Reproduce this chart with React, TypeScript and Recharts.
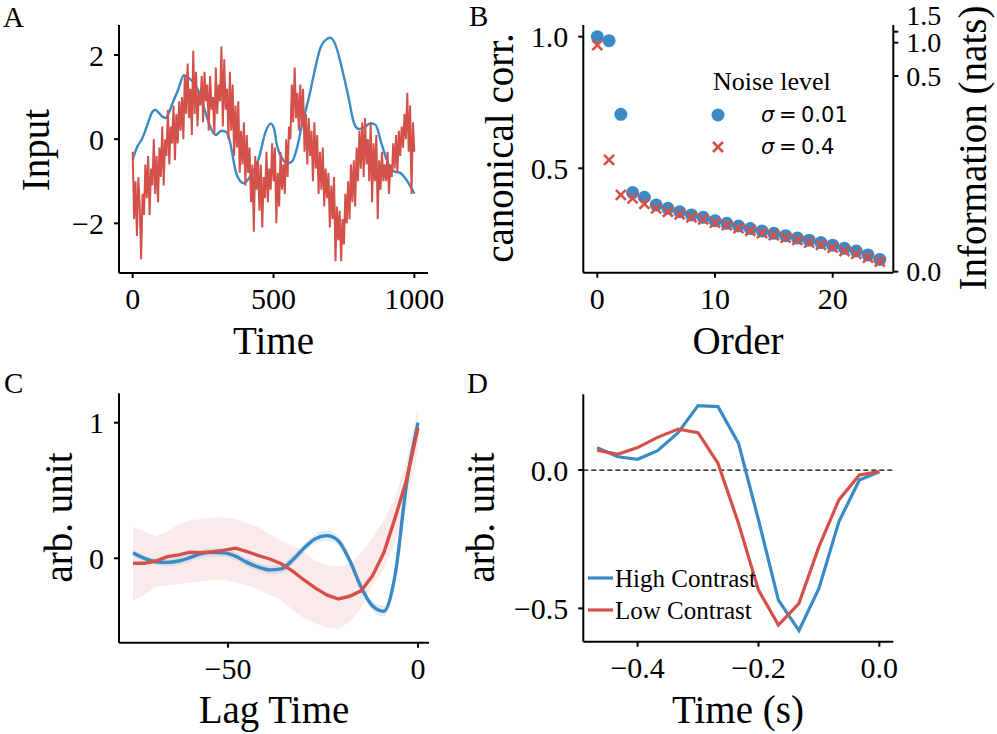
import React from "react";
import {
  LineChart,
  Line,
  ComposedChart,
  Area,
  ScatterChart,
  Scatter,
  XAxis,
  YAxis,
  ReferenceLine,
  Legend,
} from "recharts";

const BLUE = "#3a8ac6";
const RED = "#d4514a";
const SERIF = '"Liberation Serif", "Times New Roman", serif';
const MATH = '"DejaVu Sans", sans-serif';

// ---- panel A: stimulus input ----
const smoothTimes = [
  0, 15, 34, 50, 70, 80, 92, 105, 117, 128, 141, 160, 182, 200, 220, 240, 260,
  275, 295, 315, 330, 345, 355, 366, 380, 396, 410, 430, 448, 472, 490, 502,
  512, 530, 550, 566, 583, 601, 625, 643, 666, 690, 702, 720, 743, 767, 784,
  802, 826, 845, 862, 885, 909, 930, 950, 968, 1000,
];
const smoothInput = [
  -0.49, -0.2, 0.02, 0.3, 0.65, 0.7, 0.63, 0.54, 0.5, 0.62, 0.85, 1.15, 1.52,
  1.45, 1.3, 1.05, 0.6, 0.3, 0.1, 0.2, 0.18, -0.05, -0.4, -0.77, -0.98, -1.05,
  -0.95, -0.75, -0.45, 0.18, 0.37, 0.25, -0.14, -0.45, -0.58, -0.53, -0.22,
  0.34, 0.97, 1.53, 2.16, 2.38, 2.41, 2.24, 1.68, 0.97, 0.42, 0.24, 0.3, 0.38,
  0.34, -0.14, -0.61, -0.77, -0.8, -0.93, -1.29,
];
const noisyStep = 5;
const noisyInput = [
  -0.3, -1.9, -1.0, -2.3, -0.9, -1.6, -2.85, -1.3, -1.8, -0.6,
  -1.4, -0.4, -1.8, -0.7, -1.1, 0.0, -1.3, -0.4, -1.5, -0.2,
  -0.9, 0.3, -1.1, 0.0, -0.4, 0.7, -0.6, 0.3, -0.1, 0.8,
  -0.5, 0.6, -0.1, 0.9, 0.2, 1.0, 0.0, 1.5, 0.6, 1.8,
  0.5, 1.2, 0.1, 2.1, 0.6, 1.6, 0.3, 1.1, 0.8, 1.5,
  0.4, 1.6, 0.9, 1.3, 0.2, 1.5, 0.7, 1.0, 0.1, 1.7,
  0.6, 1.3, 0.9, 2.2, 0.3, 1.9, 0.7, 1.2, 0.0, 1.6,
  0.2, 1.3, -0.4, 0.8, -0.2, 0.9, -0.8, 0.2, -0.6, 0.4,
  -1.1, 0.1, -0.8, -0.2, -1.5, -0.6, -2.2, -0.4, -1.2, -0.5,
  -1.7, -0.6, -2.1, -0.9, -1.4, -0.3, -1.5, -0.7, -1.2, -0.1,
  -1.0, -0.2, -2.0, -0.8, -1.6, -0.3, -1.2, -0.6, -1.3, 0.0,
  -0.9, 0.3, 0.0, 1.3, 0.4, 1.7, 0.5, 1.1, 0.2, 1.3,
  0.3, 1.2, -0.3, 0.6, -0.6, 0.5, -0.4, 0.2, -1.0, 0.4,
  -0.7, 0.1, -1.3, -0.3, -1.2, -0.2, -1.6, -0.7, -1.4, -0.8,
  -2.1, -1.1, -1.9, -0.9, -2.9, -1.6, -2.4, -1.7, -2.9, -1.9,
  -2.5, -1.3, -2.0, -1.0, -1.9, -0.6, -1.5, -0.5, -1.6, -0.2,
  -1.0, 0.2, -0.7, 0.4, -0.9, 0.5, -0.6, 0.0, -1.0, 0.4,
  -1.5, -0.1, -1.0, 0.1, -1.9, -0.5, -1.2, -0.3, -1.0, -0.6,
  -1.0, -0.3, -1.3, -0.6, -0.9, -0.1, -0.7, 0.1, -0.8, 0.2,
  -0.4, 0.3, -0.2, 0.6, 0.0, 1.1, -0.3, 0.8, -1.3, 0.4,
  -0.3,
];
const timeTicks = [0, 500, 1000];
const inputTicks = [-2, 0, 2];

// ---- panel B: canonical correlations ----
const orders = [
  0, 1, 2, 3, 4, 5, 6, 7, 8, 9, 10, 11, 12, 13, 14, 15, 16, 17, 18, 19, 20, 21,
  22, 23, 24,
];
const corrLowNoise = [
  1.0, 0.985, 0.705, 0.408, 0.39, 0.361, 0.348, 0.335, 0.323, 0.314, 0.301,
  0.291, 0.281, 0.271, 0.262, 0.253, 0.244, 0.235, 0.227, 0.218, 0.208, 0.196,
  0.186, 0.171, 0.154,
];
const corrHighNoise = [
  0.968, 0.532, 0.399, 0.386, 0.365, 0.348, 0.335, 0.325, 0.314, 0.306, 0.294,
  0.284, 0.273, 0.263, 0.254, 0.246, 0.237, 0.228, 0.218, 0.209, 0.199, 0.186,
  0.175, 0.161, 0.146,
];
const orderTicks = [0, 10, 20];
const corrTicks = [0.5, 1.0];
const infoTickLabels = ["0.0", "0.5", "1.0", "1.5"];
// canonical corr. level that sits opposite each information tick
const infoTickAtCorr = [0.1075, 0.8507, 0.9772, 1.019];
const noiseLabels = ["0.01", "0.4"];

// ---- panel C: filters vs lag ----
const lags = [
  -75, -72, -69, -66, -63, -60, -57, -54, -51, -48, -45, -42, -39, -36, -33,
  -30, -27, -24, -21, -18, -15, -12, -9, -6, -3, 0,
];
const filterBlue = [
  0.04, 0.0, -0.025, -0.03, -0.02, 0.005, 0.035, 0.044, 0.04, 0.015, -0.03,
  -0.065, -0.085, -0.078, -0.012, 0.075, 0.145, 0.167, 0.13, -0.015, -0.21,
  -0.35, -0.39, -0.12, 0.55, 1.0,
];
const filterBlueLo = [
  0.015, -0.025, -0.05, -0.06, -0.05, -0.025, 0.005, 0.014, 0.01, -0.015,
  -0.06, -0.095, -0.115, -0.11, -0.045, 0.04, 0.11, 0.13, 0.095, -0.05, -0.245,
  -0.385, -0.43, -0.16, 0.51, 0.97,
];
const filterBlueHi = [
  0.065, 0.025, 0.0, 0.0, 0.01, 0.035, 0.065, 0.074, 0.07, 0.045, 0.0, -0.035,
  -0.055, -0.046, 0.021, 0.11, 0.18, 0.205, 0.165, 0.02, -0.175, -0.315, -0.35,
  -0.08, 0.59, 1.03,
];
const filterRed = [
  -0.037, -0.037, -0.02, 0.012, 0.025, 0.045, 0.042, 0.048, 0.06, 0.075, 0.05,
  0.02, -0.005, -0.04, -0.095, -0.16, -0.22, -0.27, -0.3, -0.28, -0.24, -0.13,
  0.04, 0.3, 0.58, 0.96,
];
const filterRedLo = [
  -0.31, -0.27, -0.21, -0.2, -0.19, -0.18, -0.17, -0.16, -0.16, -0.18, -0.2,
  -0.23, -0.27, -0.31, -0.38, -0.44, -0.48, -0.51, -0.52, -0.47, -0.37, -0.2,
  -0.08, 0.12, 0.35, 0.8,
];
const filterRedHi = [
  0.23, 0.2, 0.16, 0.2, 0.25, 0.28, 0.29, 0.3, 0.3, 0.29, 0.26, 0.23, 0.18,
  0.13, 0.09, 0.05, -0.02, -0.05, -0.06, -0.04, 0.04, 0.15, 0.28, 0.45, 0.72,
  1.12,
];
const lagTicks = [-50, 0];
const unitTicks = [0, 1];

// ---- panel D: contrast filters ----
const filterTimes = [
  -0.467, -0.433, -0.4, -0.367, -0.333, -0.3, -0.267, -0.233, -0.2, -0.167,
  -0.133, -0.1, -0.067, -0.033, 0,
];
const highContrast = [
  0.081, 0.048, 0.039, 0.07, 0.135, 0.233, 0.229, 0.096, -0.18, -0.47, -0.58,
  -0.428, -0.187, -0.036, -0.006,
];
const lowContrast = [
  0.072, 0.057, 0.081, 0.118, 0.148, 0.135, 0.024, -0.193, -0.434, -0.56,
  -0.482, -0.277, -0.108, -0.018, -0.006,
];
const secTicks = [-0.4, -0.2, 0];
const arbTicks = [-0.5, 0];
const contrastLabels = ["High Contrast", "Low Contrast"];

const smoothData = smoothTimes.map((t, i) => ({ t, v: smoothInput[i] }));
const noisyData = noisyInput.map((v, i) => ({ t: i * noisyStep, v }));
const lowNoiseData = orders.map((order, i) => ({ order, corr: corrLowNoise[i] }));
const highNoiseData = orders.map((order, i) => ({ order, corr: corrHighNoise[i] }));
const lagData = lags.map((lag, i) => ({
  lag,
  blue: filterBlue[i],
  red: filterRed[i],
  blueBand: [filterBlueLo[i], filterBlueHi[i]],
  redBand: [filterRedLo[i], filterRedHi[i]],
}));
const contrastData = filterTimes.map((s, i) => ({
  s,
  high: highContrast[i],
  low: lowContrast[i],
}));

const fmt = (v: number, digits: number) => {
  const s = Math.abs(v).toFixed(digits);
  return v < 0 ? "\u2212" + s : s;
};

const axisLine = { stroke: "#000", strokeWidth: 2 };
const tickLine = { stroke: "#000", strokeWidth: 2 };
const tickStyle = { fontSize: 30, fill: "#000", fontFamily: SERIF };

const CircleMark = (props: any) => (
  <circle cx={props.cx} cy={props.cy} r={6.5} fill={BLUE} />
);

const CrossMark = (props: any) => {
  const { cx, cy } = props;
  const r = 5;
  return (
    <g stroke={RED} strokeWidth={2.6}>
      <line x1={cx - r} y1={cy - r} x2={cx + r} y2={cy + r} />
      <line x1={cx - r} y1={cy + r} x2={cx + r} y2={cy - r} />
    </g>
  );
};

const InfoTick = (props: any) => {
  const i = infoTickAtCorr.indexOf(props.payload.value);
  // the top label sits above its tick mark in the original
  const lift = i === infoTickAtCorr.length - 1 ? -17 : 0;
  return (
    <text
      x={props.x}
      y={props.y + lift}
      dy="0.35em"
      textAnchor="start"
      fontSize={28}
      fontFamily={SERIF}
      fill="#000"
    >
      {infoTickLabels[i]}
    </text>
  );
};

const NoiseLegend = () => (
  <svg width={180} height={110}>
    <text x={8} y={30} fontSize={26} fontFamily={SERIF} fill="#000">
      Noise level
    </text>
    <circle cx={13} cy={55} r={6.5} fill={BLUE} />
    <CrossMark cx={13} cy={87} />
    {noiseLabels.map((lab, i) => (
      <text key={lab} y={62 + i * 32} fontSize={21} fontFamily={MATH} fill="#000">
        <tspan x={56} fontStyle="italic">σ</tspan>
        <tspan x={74}>=</tspan>
        <tspan x={96}>{lab}</tspan>
      </text>
    ))}
  </svg>
);

const ContrastLegend = () => (
  <svg width={190} height={70}>
    {contrastLabels.map((lab, i) => (
      <g key={lab}>
        <line x1={3} x2={28} y1={18 + i * 32} y2={18 + i * 32} stroke={i === 0 ? BLUE : RED} strokeWidth={3.2} />
        <text x={30} y={27 + i * 32} fontSize={25} fontFamily={SERIF} fill="#000">
          {lab}
        </text>
      </g>
    ))}
  </svg>
);

const titleStyle = { fontSize: 39, fontFamily: SERIF, fill: "#000" };
const letterStyle = { fontSize: 29, fontFamily: SERIF, fill: "#000" };

export default function App() {
  return (
    <div
      style={{
        position: "absolute",
        left: 0,
        top: 0,
        width: 997,
        height: 734,
        background: "#fff",
      }}
    >
      {/* A */}
      <div style={{ position: "absolute", left: 0, top: 0 }}>
        <LineChart width={460} height={360} margin={{ top: 25, right: 32, bottom: 0, left: 0 }}>
          <XAxis
            type="number"
            dataKey="t"
            domain={[-48.6, 1048.5]}
            allowDataOverflow
            ticks={timeTicks}
            interval={0}
            height={87}
            tickSize={5}
            tickMargin={10}
            axisLine={axisLine}
            tickLine={tickLine}
            tick={tickStyle}
            tickFormatter={(v) => fmt(v, 0)}
          />
          <YAxis
            type="number"
            dataKey="v"
            domain={[-3.18, 2.713]}
            allowDataOverflow
            ticks={inputTicks}
            interval={0}
            width={119}
            tickSize={5}
            tickMargin={10}
            axisLine={axisLine}
            tickLine={tickLine}
            tick={tickStyle}
            tickFormatter={(v) => fmt(v, 0)}
          />
          <Line data={smoothData} dataKey="v" type="monotone" stroke={BLUE} strokeWidth={2.4} dot={false} isAnimationActive={false} />
          <Line data={noisyData} dataKey="v" type="linear" stroke={RED} strokeWidth={2} dot={false} isAnimationActive={false} />
        </LineChart>
      </div>

      {/* B */}
      <div style={{ position: "absolute", left: 440, top: 0 }}>
        <ScatterChart width={557} height={360} margin={{ top: 25, right: 0, bottom: 0, left: 0 }}>
          <XAxis
            type="number"
            dataKey="order"
            domain={[-1.19, 25.15]}
            allowDataOverflow
            ticks={orderTicks}
            interval={0}
            height={87.3}
            tickSize={5}
            tickMargin={10}
            axisLine={axisLine}
            tickLine={tickLine}
            tick={tickStyle}
          />
          <YAxis
            yAxisId="corr"
            type="number"
            dataKey="corr"
            domain={[0.1035, 1.0444]}
            allowDataOverflow
            ticks={corrTicks}
            interval={0}
            width={143.3}
            tickSize={5}
            tickMargin={10}
            axisLine={axisLine}
            tickLine={tickLine}
            tick={tickStyle}
            tickFormatter={(v) => fmt(v, 1)}
          />
          <YAxis
            yAxisId="info"
            orientation="right"
            type="number"
            domain={[0.1035, 1.0444]}
            allowDataOverflow
            ticks={infoTickAtCorr}
            interval={0}
            width={103.7}
            tickSize={5}
            tickMargin={8}
            axisLine={axisLine}
            tickLine={tickLine}
            tick={(p: any) => <InfoTick {...p} />}
          />
          <Scatter yAxisId="corr" data={lowNoiseData} shape={CircleMark} isAnimationActive={false} />
          <Scatter yAxisId="corr" data={highNoiseData} shape={CrossMark} isAnimationActive={false} />
          <Legend
            layout="horizontal"
            align="center"
            verticalAlign="middle"
            content={NoiseLegend}
            wrapperStyle={{ left: 265, top: 60, width: 180, height: 110 }}
          />
        </ScatterChart>
      </div>

      {/* C */}
      <div style={{ position: "absolute", left: 0, top: 360 }}>
        <ComposedChart width={440} height={374} data={lagData} margin={{ top: 33.3, right: 11, bottom: 0, left: 0 }}>
          <XAxis
            type="number"
            dataKey="lag"
            domain={[-78.7, 2.9]}
            allowDataOverflow
            ticks={lagTicks}
            interval={0}
            height={91.3}
            tickSize={5}
            tickMargin={10}
            axisLine={axisLine}
            tickLine={tickLine}
            tick={tickStyle}
            tickFormatter={(v) => fmt(v, 0)}
          />
          <YAxis
            type="number"
            domain={[-0.6224, 1.2168]}
            allowDataOverflow
            ticks={unitTicks}
            interval={0}
            width={119}
            tickSize={5}
            tickMargin={10}
            axisLine={axisLine}
            tickLine={tickLine}
            tick={tickStyle}
            tickFormatter={(v) => fmt(v, 0)}
          />
          <Area dataKey="redBand" type="linear" stroke="none" fill={RED} fillOpacity={0.12} isAnimationActive={false} />
          <Area dataKey="blueBand" type="monotone" stroke="none" fill={BLUE} fillOpacity={0.15} isAnimationActive={false} />
          <Line dataKey="blue" type="monotone" stroke={BLUE} strokeWidth={3.4} dot={false} isAnimationActive={false} />
          <Line dataKey="red" type="linear" stroke={RED} strokeWidth={3.4} dot={false} isAnimationActive={false} />
        </ComposedChart>
      </div>

      {/* D */}
      <div style={{ position: "absolute", left: 440, top: 360 }}>
        <LineChart width={557} height={374} data={contrastData} margin={{ top: 34.3, right: 103.7, bottom: 0, left: 0 }}>
          <XAxis
            type="number"
            dataKey="s"
            domain={[-0.4899, 0.0231]}
            allowDataOverflow
            ticks={secTicks}
            interval={0}
            height={92.3}
            tickSize={5}
            tickMargin={10}
            axisLine={axisLine}
            tickLine={tickLine}
            tick={tickStyle}
            tickFormatter={(v) => fmt(v, 1)}
          />
          <YAxis
            type="number"
            domain={[-0.6204, 0.2737]}
            allowDataOverflow
            ticks={arbTicks}
            interval={0}
            width={143.3}
            tickSize={5}
            tickMargin={10}
            axisLine={axisLine}
            tickLine={tickLine}
            tick={tickStyle}
            tickFormatter={(v) => fmt(v, 1)}
          />
          <ReferenceLine y={0} stroke="#000" strokeWidth={1.3} strokeDasharray="5 3" />
          <Line dataKey="high" type="linear" stroke={BLUE} strokeWidth={3.2} dot={false} isAnimationActive={false} />
          <Line dataKey="low" type="linear" stroke={RED} strokeWidth={3.2} dot={false} isAnimationActive={false} />
          <Legend
            layout="horizontal"
            align="center"
            verticalAlign="middle"
            content={ContrastLegend}
            wrapperStyle={{ left: 145, top: 200, width: 190, height: 70 }}
          />
        </LineChart>
      </div>

      {/* axis titles and panel letters */}
      <svg
        width={997}
        height={734}
        style={{ position: "absolute", left: 0, top: 0, pointerEvents: "none" }}
      >
        <text x={3} y={27} {...letterStyle}>A</text>
        <text x={469} y={26} {...letterStyle}>B</text>
        <text x={4} y={393} {...letterStyle}>C</text>
        <text x={467} y={393} {...letterStyle}>D</text>

        <text x={273.5} y={354} textAnchor="middle" {...titleStyle}>Time</text>
        <text transform="translate(49,150) rotate(-90)" textAnchor="middle" {...titleStyle}>Input</text>

        <text x={738} y={354} textAnchor="middle" {...titleStyle}>Order</text>
        <text transform="translate(513,148) rotate(-90)" textAnchor="middle" {...titleStyle}>canonical corr.</text>
        <text transform="translate(986,148) rotate(-90)" textAnchor="middle" {...titleStyle}>Information (nats)</text>

        <text x={274} y={723} textAnchor="middle" {...titleStyle}>Lag Time</text>
        <text transform="translate(72,517.5) rotate(-90)" textAnchor="middle" {...titleStyle}>arb. unit</text>

        <text x={738} y={723} textAnchor="middle" {...titleStyle}>Time (s)</text>
        <text transform="translate(494,517.5) rotate(-90)" textAnchor="middle" {...titleStyle}>arb. unit</text>
      </svg>
    </div>
  );
}
